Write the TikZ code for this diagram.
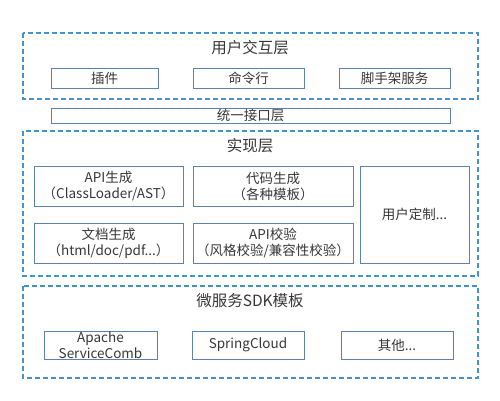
\documentclass[tikz,border=0pt]{standalone}
\usepackage{fontspec}
\setmainfont{Noto Sans CJK SC}
\definecolor{dashblue}{RGB}{70,145,205}
\definecolor{boxblue}{RGB}{95,130,170}
\definecolor{txt}{RGB}{55,55,55}
\tikzset{
  layer/.style={draw=dashblue, line width=1.1pt, dash pattern=on 5pt off 3pt},
  item/.style={draw=boxblue, line width=1pt},
  lbl/.style={text=txt, font=\fontsize{13.5}{16}\selectfont, align=center, inner sep=0pt},
  ttl/.style={text=txt, font=\fontsize{15.5}{18}\selectfont, inner sep=0pt}
}
\begin{document}
\begin{tikzpicture}[x=1pt,y=-1pt]
\useasboundingbox (0,0) rectangle (500,400);
% layer 1
\draw[layer] (23,33) rectangle (478,99);
\node[ttl] (t1) at (250,48) {用户交互层};
\draw[item] (51,68) rectangle node[lbl] (a1) {插件} (158,88);
\draw[item] (193,68) rectangle node[lbl] (a2) {命令行} (304,88);
\draw[item] (339,68) rectangle node[lbl] (a3) {脚手架服务} (450,88);
% interface
\draw[item] (51,108) rectangle node[lbl] (ui) {统一接口层} (450,123);
% layer 2
\draw[layer] (23,131) rectangle (478,276);
\node[ttl] (t2) at (250,146) {实现层};
\draw[item] (34,166) rectangle node[lbl] (b1) {API生成\\（ClassLoader/AST）} (183,206);
\draw[item] (193,166) rectangle node[lbl] (b2) {代码生成\\（各种模板）} (353,206);
\draw[item] (34,223) rectangle node[lbl] (b3) {文档生成\\（html/doc/pdf...）} (183,263);
\draw[item] (193,223) rectangle node[lbl] (b4) {API校验\\（风格校验/兼容性校验）} (353,263);
\draw[item] (360,166) rectangle node[lbl] (b5) {用户定制...} (469,263);
% layer 3
\draw[layer] (23,286) rectangle (478,378);
\node[ttl] (t3) at (250,301) {微服务SDK模板};
\draw[item] (44,331) rectangle node[lbl] (c1) {Apache\\ServiceComb} (157,359);
\draw[item] (192,331) rectangle node[lbl] (c2) {SpringCloud} (304,359);
\draw[item] (341,331) rectangle node[lbl] (c3) {其他...} (453,359);
\end{tikzpicture}
\end{document}
